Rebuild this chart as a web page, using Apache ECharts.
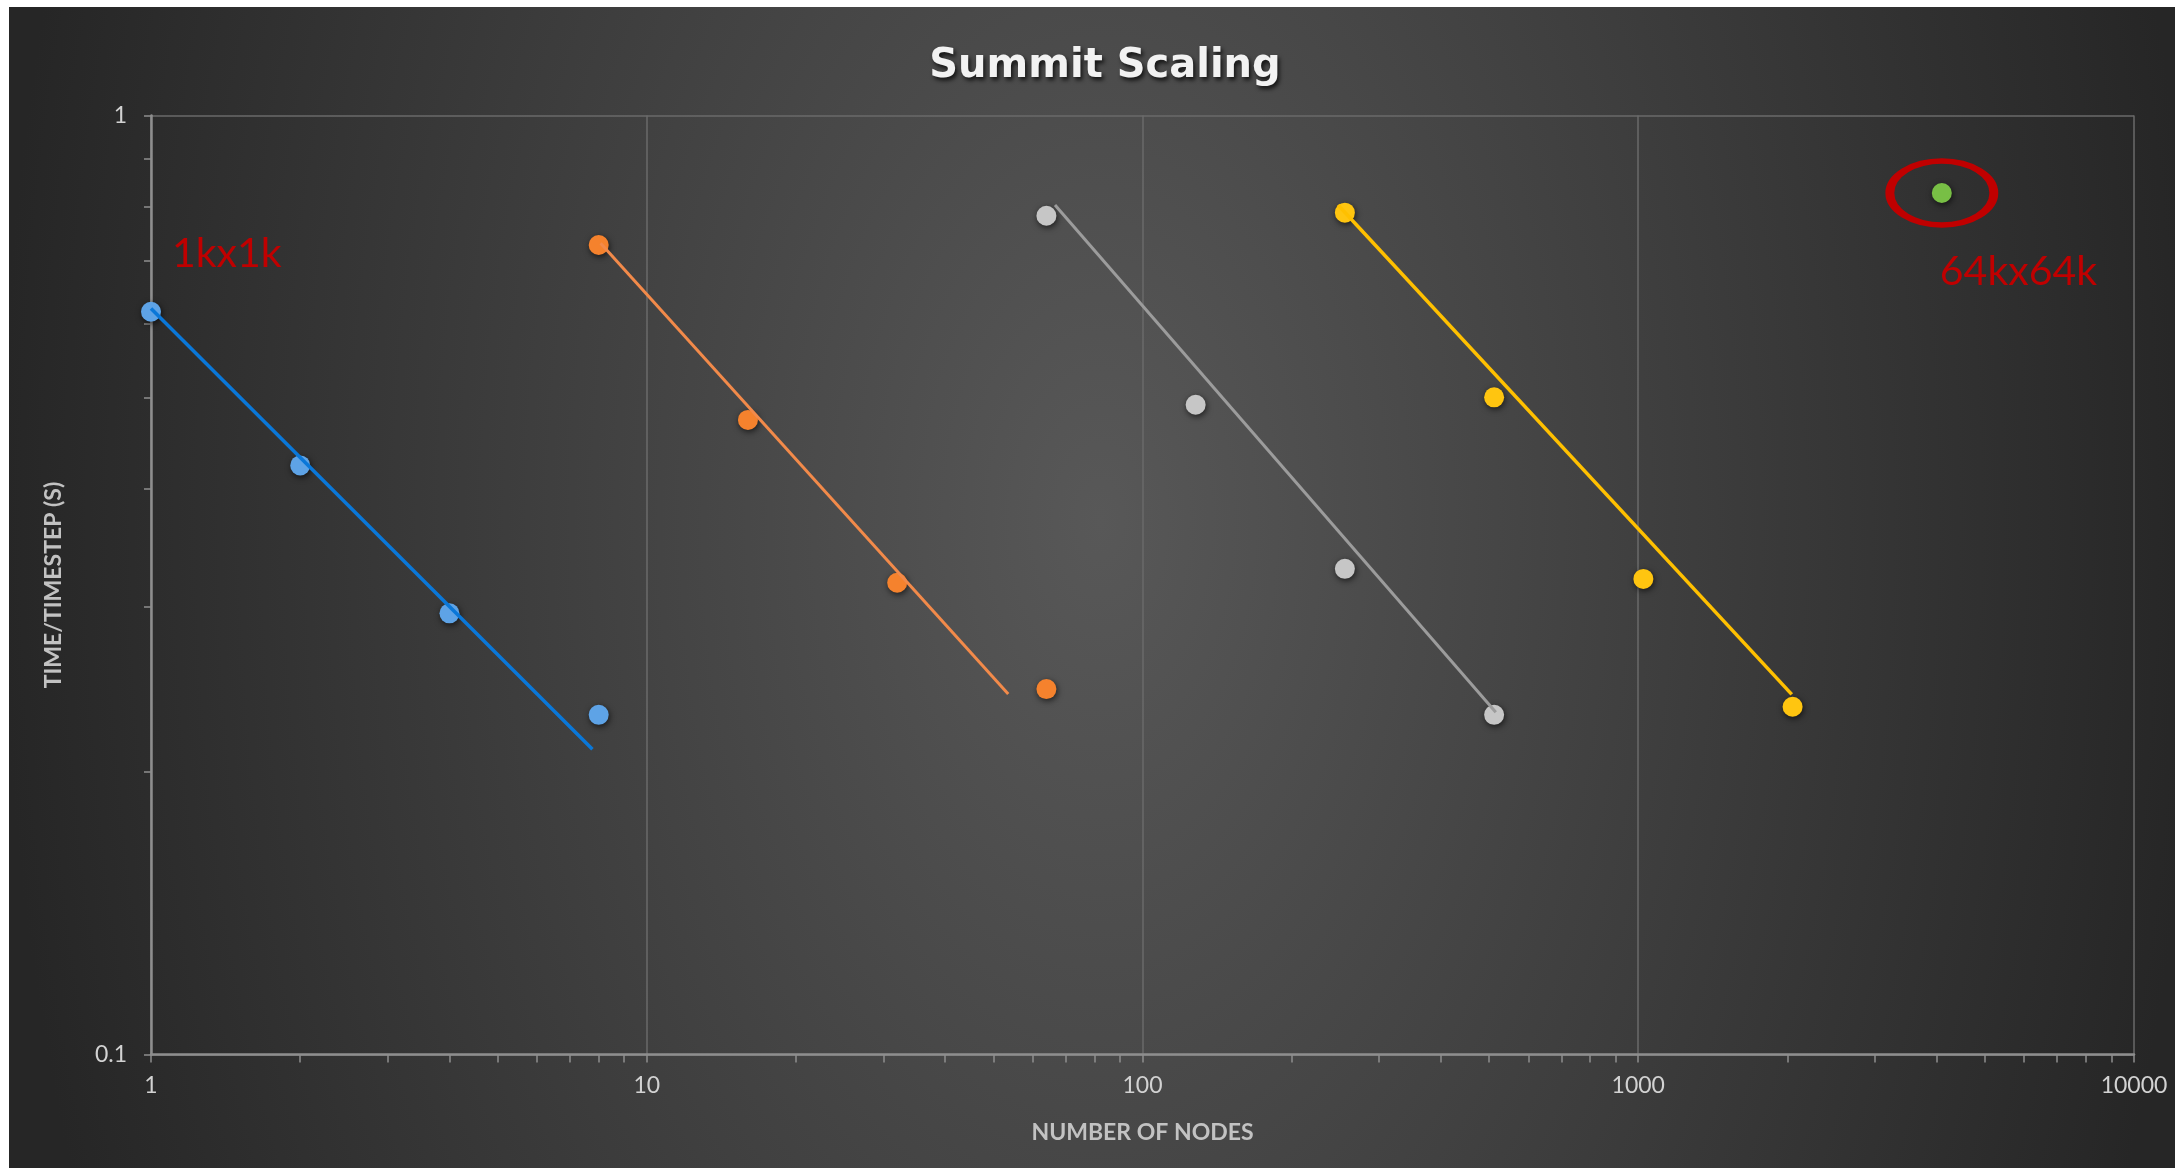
<!DOCTYPE html>
<html>
<head>
<meta charset="utf-8">
<script src="https://cdn.jsdelivr.net/npm/echarts@6/dist/echarts.min.js"></script>
<style>
  html, body { margin: 0; padding: 0; background: #ffffff; width: 2175px; height: 1168px; overflow: hidden; }
  #chart {
    position: absolute; left: 9px; top: 7px; width: 2166px; height: 1161px;
    background: radial-gradient(1100px 1850px at 1091px 513px, #585858 0%, #262626 100%);
  }
</style>
</head>
<body>
<div id="chart"></div>
<script>
// Measured time per timestep (s) against node count, one group per problem size
const nodes1k = [1, 2, 4, 8];
const time1k = [0.618, 0.424, 0.295, 0.230];

const nodesB = [8, 16, 32, 64];
const timeB = [0.728, 0.474, 0.318, 0.245];

const nodesC = [64, 128, 256, 512];
const timeC = [0.782, 0.492, 0.329, 0.230];

const nodesD = [256, 512, 1024, 2048];
const timeD = [0.788, 0.501, 0.321, 0.2346];

const nodes64k = [4096];
const time64k = [0.827];

// Trend line end points [nodes, time]
const trend1k = [[1, 0.623], [7.77, 0.2114]];
const trendB = [[8.07, 0.731], [53.6, 0.242]];
const trendC = [[66.6, 0.803], [516, 0.2315]];
const trendD = [[248, 0.803], [2040, 0.2418]];

// Axis ranges / tick labels
const xTicks = [1, 10, 100, 1000, 10000];
const yTicks = [0.1, 1];

const annotations = ['1kx1k', '64kx64k'];

const zip = (xs, ys) => xs.map((x, i) => [x, ys[i]]);

const markerShadow = { shadowBlur: 6, shadowColor: 'rgba(0,0,0,0.65)', shadowOffsetX: 1, shadowOffsetY: 2 };

function pointSeries(xs, ys, color) {
  return {
    type: 'scatter', data: zip(xs, ys), symbol: 'circle', symbolSize: 20, z: 3,
    itemStyle: Object.assign({ color: color, opacity: 1 }, markerShadow)
  };
}
function trendSeries(pts, color, width) {
  return {
    type: 'line', data: pts, showSymbol: false, symbol: 'none', z: 4,
    lineStyle: { color: color, width: width }
  };
}

const axisColor = '#8e8e8e';
const gridColor = '#6a6a6a';
const labelFont = { fontFamily: 'Lato', fontSize: 23, color: '#d2d2d2' };
const nameFont = { fontFamily: 'Lato', fontWeight: 'bold', fontSize: 23, color: '#c2c2c2' };

const chart = echarts.init(document.getElementById('chart'), null, { renderer: 'canvas' });
chart.setOption({
  animation: false,
  backgroundColor: 'transparent',
  title: {
    text: 'Summit Scaling',
    left: 1091, top: 35, textAlign: 'center',
    textStyle: {
      fontFamily: 'DejaVu Sans', fontWeight: 'bold', fontSize: 40, color: '#f2f2f2',
      textShadowColor: 'rgba(0,0,0,0.75)', textShadowBlur: 4, textShadowOffsetX: 2, textShadowOffsetY: 3
    }
  },
  grid: { left: 142, top: 108.5, width: 1983, height: 939, containLabel: false },
  xAxis: {
    type: 'log', logBase: 10, min: xTicks[0], max: xTicks[xTicks.length - 1],
    name: 'NUMBER OF NODES', nameLocation: 'middle', nameGap: 67,
    nameTextStyle: nameFont,
    axisLine: { show: true, lineStyle: { color: axisColor, width: 2.5 } },
    axisTick: { show: true, length: 8, lineStyle: { color: axisColor, width: 1.5 } },
    minorTick: { show: true, splitNumber: 9, length: 8, lineStyle: { color: axisColor, width: 1.5 } },
    splitLine: { show: true, lineStyle: { color: gridColor, width: 1.5 } },
    axisLabel: Object.assign({ margin: 20, formatter: v => String(Math.round(v)) }, labelFont)
  },
  yAxis: {
    type: 'log', logBase: 10, min: yTicks[0], max: yTicks[yTicks.length - 1],
    name: 'TIME/TIMESTEP (S)', nameLocation: 'middle', nameGap: 86, nameRotate: 90,
    nameTextStyle: nameFont,
    axisLine: { show: true, lineStyle: { color: axisColor, width: 2.5 } },
    axisTick: { show: true, length: 7, lineStyle: { color: axisColor, width: 1.5 } },
    minorTick: { show: true, splitNumber: 9, length: 7, lineStyle: { color: axisColor, width: 1.5 } },
    splitLine: { show: true, lineStyle: { color: gridColor, width: 1.5 } },
    axisLabel: Object.assign({ margin: 24, formatter: v => (v < 1 ? v.toFixed(1) : String(Math.round(v))) }, labelFont)
  },
  series: [
    // ring around the largest run
    {
      type: 'scatter', silent: true, z: 2,
      data: zip(nodes64k, time64k), symbol: 'circle', symbolSize: [104, 64],
      itemStyle: { color: 'rgba(0,0,0,0)', borderColor: '#c00000', borderWidth: 7, opacity: 1 }
    },
    pointSeries(nodes1k, time1k, '#5ea3e6'),
    pointSeries(nodesB, timeB, '#f5822d'),
    pointSeries(nodesC, timeC, '#c6c6c6'),
    pointSeries(nodesD, timeD, '#ffc510'),
    pointSeries(nodes64k, time64k, '#78bf45'),
    trendSeries(trend1k, '#0a77d8', 3.5),
    trendSeries(trendB, '#f28a4a', 3),
    trendSeries(trendC, '#9c9c9c', 3),
    trendSeries(trendD, '#ffc000', 3.5),
    // problem size annotations
    {
      type: 'scatter', silent: true, z: 5, symbolSize: 0,
      data: [[nodes1k[0], time1k[0]]],
      itemStyle: { opacity: 1 },
      label: {
        show: true, formatter: annotations[0], position: [21, -58],
        align: 'left', verticalAlign: 'middle',
        fontFamily: 'Lato', fontSize: 41, color: '#c00000'
      }
    },
    {
      type: 'scatter', silent: true, z: 5, symbolSize: 0,
      data: [[nodes64k[0], time64k[0]]],
      itemStyle: { opacity: 1 },
      label: {
        show: true, formatter: annotations[1], position: [-2, 79],
        align: 'left', verticalAlign: 'middle',
        fontFamily: 'Lato', fontSize: 41, color: '#c00000'
      }
    }
  ]
});
</script>
</body>
</html>
